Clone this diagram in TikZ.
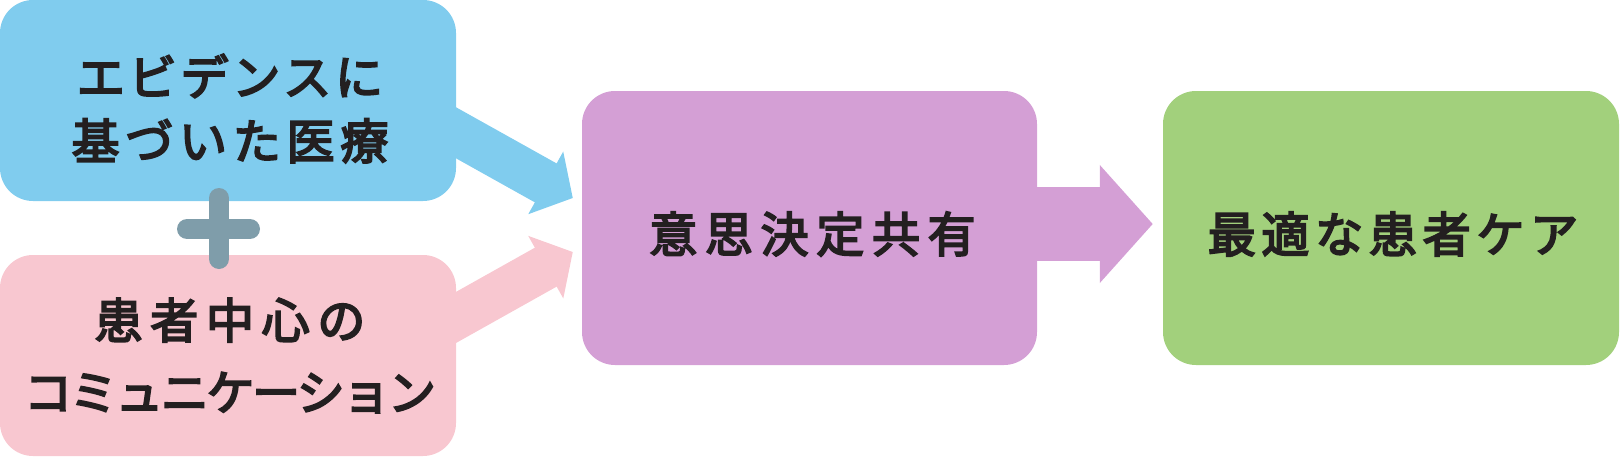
\documentclass[tikz,border=0pt]{standalone}
\usepackage{fontspec}
\newfontfamily\jp[FakeBold=4]{Noto Sans CJK JP}
\usetikzlibrary{arrows.meta,calc}
\definecolor{boxblue}{HTML}{80CCEE}
\definecolor{boxpink}{HTML}{F8C7D0}
\definecolor{boxpurple}{HTML}{D49FD5}
\definecolor{boxgreen}{HTML}{A2D07C}
\definecolor{plusc}{HTML}{7F9DAA}
\definecolor{txt}{HTML}{231F20}
\pgfdeclarelayer{bg}
\pgfsetlayers{bg,main}
\newcommand{\lsp}[2]{{\addfontfeature{LetterSpace=#1}#2}}
\begin{document}
\begin{tikzpicture}[x=1pt,y=-1pt,
  box/.style={draw=none,rectangle,rounded corners=33pt,inner sep=0pt},
  lbl/.style={inner sep=0pt,align=center,text=txt,
    font=\jp\fontsize{48}{64}\selectfont},
  fatarrow/.style={line width=#1,line cap=butt}]
\useasboundingbox (0,0) rectangle (1620,458);
\node[box,fill=boxblue,minimum width=456pt,minimum height=201pt] (blue) at (228,100.5) {};
\node[box,fill=boxpink,minimum width=456pt,minimum height=201pt] (pink) at (228,355.5) {};
\node[box,fill=boxpurple,minimum width=455pt,minimum height=274pt] (sdm) at (809.5,228) {};
\node[box,fill=boxgreen,minimum width=456pt,minimum height=274pt] (care) at (1391,228) {};
\node[lbl] (bluetxt) at ($(blue.center)+(2,8)$)
  {\lsp{8}{エビデンスに}\\\lsp{12}{基づいた医療}};
\node[lbl,font=\jp\fontsize{48}{72}\selectfont] (pinktxt) at ($(pink.center)+(2,0)$)
  {\lsp{16}{患者中心の}\\\lsp{-5}{コミュニケーション}};
\node[lbl] (sdmtxt) at ($(sdm.center)+(3,6)$) {\lsp{16}{意思決定共有}};
\node[lbl] (caretxt) at ($(care.center)+(2,6)$) {\lsp{12}{最適な患者ケア}};
\coordinate (bs) at ($(blue.east)+(-36,12.3)$);
\coordinate (bt) at ($(sdm.west)+(-9,-30)$);
\coordinate (ps) at ($(pink.east)+(-36,-18)$);
\coordinate (pt) at ($(sdm.west)+(-9,24)$);
\coordinate (ms) at ($(sdm.east)+(-40,-4)$);
\coordinate (mt) at ($(care.west)+(-10,-4)$);
\begin{pgfonlayer}{bg}
\draw[boxblue,fatarrow=44.6pt,-{Triangle[width=70pt,length=31pt]}] (bs) -- (bt);
\draw[boxpink,fatarrow=44.6pt,-{Triangle[width=70pt,length=31pt]}] (ps) -- (pt);
\draw[boxpurple,fatarrow=74pt,-{Triangle[width=115pt,length=53pt]}] (ms) -- (mt);
\end{pgfonlayer}
\coordinate (plus) at (219,229);
\draw[plusc,line width=20pt,line cap=round] ($(plus)+(0,-31)$) -- ($(plus)+(0,30)$)
  ($(plus)+(-32,0)$) -- ($(plus)+(31,0)$);
\end{tikzpicture}
\end{document}
